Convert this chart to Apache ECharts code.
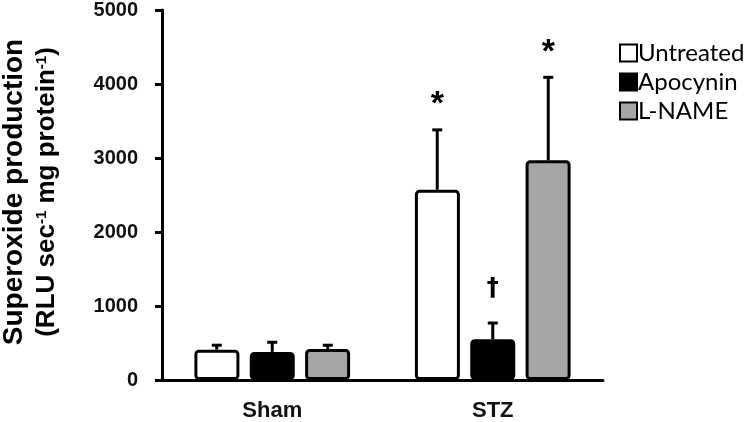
<!DOCTYPE html>
<html><head><meta charset="utf-8">
<script src="https://cdn.jsdelivr.net/npm/echarts@6/dist/echarts.min.js"></script>
<style>html,body{margin:0;padding:0;background:#fff}#c{width:746px;height:422px}</style>
</head><body><div id="c"></div>
<script>
var categories = ['Sham', 'STZ'];
var seriesNames = ['Untreated', 'Apocynin', 'L-NAME'];
var untreated = [410, 2570];
var apocynin = [380, 550];
var lname = [420, 2970];
var untreatedErr = [470, 3380];
var apocyninErr = [510, 770];
var lnameErr = [470, 4090];
var untreatedMark = ['', '*'];
var apocyninMark = ['', '†'];
var lnameMark = ['', '*'];
var yTicks = [0, 1000, 2000, 3000, 4000, 5000];

var colors = ['#ffffff', '#000000', '#a6a6a6'];
var values = [untreated, apocynin, lname];
var errs = [untreatedErr, apocyninErr, lnameErr];
var marks = [untreatedMark, apocyninMark, lnameMark];
var offsets = [-55.5, 0, 55.5];

var chart = echarts.init(document.getElementById('c'));
var series = [];
seriesNames.forEach(function (n, i) {
  series.push({
    name: n, type: 'bar', data: values[i], barWidth: 45, barGap: '23%',
    itemStyle: { color: colors[i], borderColor: '#000', borderWidth: 3, borderRadius: 3 },
    z: 3
  });
});
seriesNames.forEach(function (n, i) {
  var data = categories.map(function (c, k) { return [k, values[i][k], errs[i][k], marks[i][k]]; });
  series.push({
    type: 'custom', data: data, z: 2, silent: true,
    renderItem: function (params, api) {
      var k = api.value(0);
      var base = api.coord([k, api.value(1)]);
      var top = api.coord([k, api.value(2)]);
      var x = base[0] + offsets[i];
      var mark = marks[i][k];
      var children = [
        { type: 'line', shape: { x1: x, y1: base[1], x2: x, y2: top[1] }, style: { stroke: '#000', lineWidth: 3 } },
        { type: 'line', shape: { x1: x - 5, y1: top[1], x2: x + 5, y2: top[1] }, style: { stroke: '#000', lineWidth: 3 } }
      ];
      if (mark) {
        children.push({ type: 'text', style: { text: mark, x: x, y: top[1] - (mark === '*' ? 8 : 22), align: 'center', verticalAlign: 'bottom',
          font: mark === '*' ? 'bold 34px "Liberation Sans", Arial' : 'bold 24px "DejaVu Sans", sans-serif', fill: '#000' } });
      }
      return { type: 'group', children: children };
    }
  });
});

chart.setOption({
  animation: false,
  grid: { left: 162, right: 143, top: 10, bottom: 41 },
  legend: {
    orient: 'vertical', left: 614, top: 36, itemWidth: 17, itemHeight: 17, itemGap: 5,
    icon: 'rect', data: seriesNames,
    textStyle: { fontFamily: 'Lato', fontSize: 24, color: '#000', padding: [0, 0, 0, -4] }
  },
  xAxis: {
    type: 'category', data: categories,
    axisLine: { lineStyle: { color: '#000', width: 3 } },
    axisTick: { show: false },
    axisLabel: { color: '#111', fontWeight: 'bold', fontSize: 22, fontFamily: '"Liberation Sans", Arial', margin: 20 }
  },
  yAxis: {
    type: 'value', min: 0, max: 5000, interval: 1000,
    axisLine: { show: true, lineStyle: { color: '#000', width: 3 } },
    axisTick: { show: true, length: 7, lineStyle: { color: '#000', width: 3 } },
    splitLine: { show: false },
    axisLabel: { color: '#111', fontWeight: 'bold', fontSize: 20, fontFamily: '"Liberation Sans", Arial', margin: 24,
      formatter: function (v) { return yTicks.indexOf(v) >= 0 ? String(v) : ''; } }
  },
  graphic: [
    { type: 'text', x: 14, y: 192, rotation: Math.PI / 2,
      style: { text: 'Superoxide production', font: 'bold 28px "Liberation Sans", Arial', fill: '#000', align: 'center', verticalAlign: 'middle' } },
    { type: 'text', x: 47, y: 192, rotation: Math.PI / 2,
      style: { text: '(RLU sec{s|-1} mg protein{s|-1})', font: 'bold 26px "Liberation Sans", Arial', fill: '#000', align: 'center', verticalAlign: 'middle',
        rich: { s: { font: 'bold 15px "Liberation Sans", Arial', verticalAlign: 'top', fill: '#000' } } } }
  ],
  series: series
});
</script></body></html>
